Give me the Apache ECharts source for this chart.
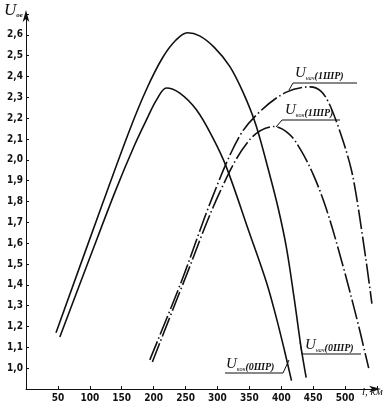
<!DOCTYPE html>
<html><head><meta charset="utf-8">
<script src="https://cdn.jsdelivr.net/npm/echarts@6/dist/echarts.min.js"></script>
<style>html,body{margin:0;padding:0;background:#fff}#c{width:387px;height:403px}</style>
</head><body><div id="c"></div>
<script>
// Data
const nach0_l = [47, 120, 162, 189, 214, 235, 253, 272, 295, 319, 340, 360, 380, 395, 408, 420, 431, 439];
const nach0_u = [1.17, 1.79, 2.14, 2.34, 2.49, 2.575, 2.61, 2.595, 2.54, 2.45, 2.325, 2.17, 1.95, 1.77, 1.58, 1.34, 1.10, 0.955];
const kon0_l = [53, 100, 140, 170, 190, 205, 220, 241, 267, 292, 314, 350, 377, 392, 405, 416];
const kon0_u = [1.15, 1.53, 1.85, 2.07, 2.20, 2.29, 2.345, 2.32, 2.24, 2.11, 1.965, 1.65, 1.41, 1.245, 1.085, 0.94];
const nach1_l = [194, 244, 292, 334, 366, 408, 445, 462, 475, 488, 500, 510, 518, 527, 535, 542];
const nach1_u = [1.04, 1.42, 1.82, 2.11, 2.23, 2.325, 2.35, 2.33, 2.27, 2.17, 2.06, 1.95, 1.82, 1.64, 1.47, 1.31];
const kon1_l = [198, 248, 303, 350, 389, 412, 430, 450, 470, 495, 519, 530, 537];
const kon1_u = [1.03, 1.42, 1.84, 2.095, 2.16, 2.125, 2.05, 1.93, 1.77, 1.51, 1.23, 1.09, 1.0];
const xTicks = [50, 100, 150, 200, 250, 300, 350, 400, 450, 500];
const yTicks = [1.0, 1.1, 1.2, 1.3, 1.4, 1.5, 1.6, 1.7, 1.8, 1.9, 2.0, 2.1, 2.2, 2.3, 2.4, 2.5, 2.6];

const zip = (a, b) => a.map((v, i) => [v, b[i]]);
const tickFont = {fontFamily: '"Liberation Sans Narrow","DejaVu Sans Condensed","Liberation Sans",sans-serif', fontSize: 10, fontWeight: 'bold', color: '#111'};
const serif = '"Liberation Serif","DejaVu Serif",serif';

function uLabel(sub, tail) {
  return {
    text: '{u|U}{s|' + sub + '}{p|' + tail + '}',
    rich: {
      u: {fontFamily: serif, fontStyle: 'italic', fontSize: 15, fill: '#111', verticalAlign: 'bottom', lineHeight: 16},
      s: {fontFamily: serif, fontStyle: 'italic', fontSize: 6, fill: '#111', verticalAlign: 'bottom', lineHeight: 10},
      p: {fontFamily: serif, fontStyle: 'italic', fontWeight: 'bold', fontSize: 10, fill: '#111', verticalAlign: 'bottom', lineHeight: 14}
    }
  };
}
function lbl(x, y, sub, tail) {
  return {type: 'text', left: x, top: y, style: uLabel(sub, tail)};
}
function seg(pts) {
  return {type: 'polyline', shape: {points: pts}, style: {stroke: '#111', lineWidth: 1, fill: null}};
}

const chart = echarts.init(document.getElementById('c'));
const solid = {color: '#111', width: 1.6};
const dashdot = {color: '#111', width: 1.6, type: [20, 3, 1.5, 3]};
const sm = 0.35;
chart.setOption({
  animation: false,
  backgroundColor: '#fff',
  grid: {left: 26, right: 10, top: 14, bottom: 14},
  xAxis: {
    type: 'value', min: 0, max: 550, interval: 50,
    axisLine: {lineStyle: {color: '#111', width: 1}, symbol: ['none', 'arrow'], symbolSize: [5, 12], symbolOffset: [0, 4]},
    axisTick: {inside: true, length: 3, lineStyle: {color: '#111'}},
    axisLabel: Object.assign({margin: 4, formatter: v => xTicks.includes(v) ? String(v) : ''}, tickFont),
    splitLine: {show: false}
  },
  yAxis: {
    type: 'value', min: 0.9, max: 2.7, interval: 0.1,
    axisLine: {lineStyle: {color: '#111', width: 1}, symbol: ['none', 'arrow'], symbolSize: [5, 12], symbolOffset: [0, 4]},
    axisTick: {inside: true, length: 3, lineStyle: {color: '#111'}},
    axisLabel: Object.assign({margin: 3, formatter: v => {
      const r = Math.round(v * 10) / 10;
      return yTicks.some(t => Math.abs(t - r) < 1e-6) ? r.toFixed(1).replace('.', ',') : '';
    }}, tickFont),
    splitLine: {show: false}
  },
  series: [
    {name: 'Uнач(0ШР)', type: 'line', smooth: sm, showSymbol: false, lineStyle: solid, data: zip(nach0_l, nach0_u)},
    {name: 'Uкон(0ШР)', type: 'line', smooth: sm, showSymbol: false, lineStyle: solid, data: zip(kon0_l, kon0_u)},
    {name: 'Uнач(1ШР)', type: 'line', smooth: sm, showSymbol: false, lineStyle: dashdot, data: zip(nach1_l, nach1_u)},
    {name: 'Uкон(1ШР)', type: 'line', smooth: sm, showSymbol: false, lineStyle: dashdot, data: zip(kon1_l, kon1_u)}
  ],
  graphic: [
    {type: 'text', left: 4, top: 2, style: {
      text: '{u|U}{s|ое}',
      rich: {
        u: {fontFamily: serif, fontStyle: 'italic', fontSize: 17, fill: '#111', verticalAlign: 'bottom', lineHeight: 18},
        s: {fontFamily: serif, fontStyle: 'italic', fontWeight: 'bold', fontSize: 7, fill: '#111', verticalAlign: 'bottom', lineHeight: 12}
      }}},
    {type: 'text', left: 362, top: 387, style: {text: 'l, км', fontFamily: serif, fontStyle: 'italic', fontSize: 11, fill: '#111'}},
    lbl(295, 66, 'нач', '(1ШР)'), seg([[289, 90], [293, 83], [357, 83]]),
    lbl(285, 103, 'кон', '(1ШР)'), seg([[276, 127], [282, 120], [340, 120]]),
    lbl(305, 338, 'нач', '(0ШР)'), seg([[300, 342], [302, 354], [361, 354]]),
    lbl(226, 357, 'кон', '(0ШР)'), seg([[225, 373], [283, 373], [289, 360]])
  ]
});
</script></body></html>
